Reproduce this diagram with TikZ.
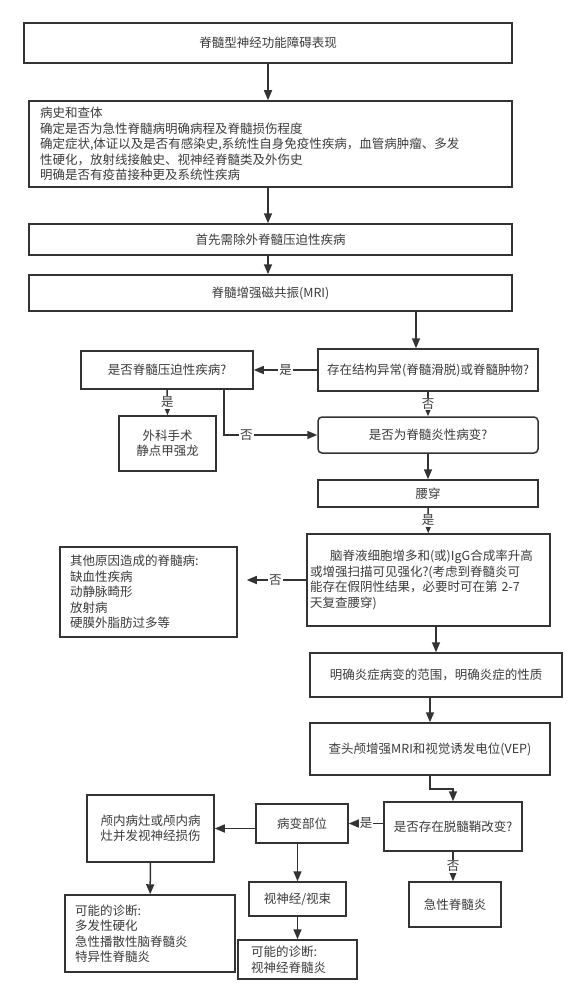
\documentclass[tikz,border=0pt]{standalone}
\usepackage{fontspec}
\setmainfont{Noto Sans CJK SC}
\usetikzlibrary{arrows.meta}

\definecolor{linegray}{HTML}{333333}
\definecolor{textgray}{HTML}{3C3C3C}

\tikzset{
	box/.style={draw=linegray, line width=1.5pt, fill=white, inner sep=0pt, text=textgray,
		font=\fontsize{12.5}{15.5}\selectfont, align=center},
	leftbox/.style={box, align=left},
	roundbox/.style={box, rounded corners=4pt},
	flow/.style={draw=linegray, line width=1.5pt, -{Triangle[length=10pt, width=8pt]}},
	lab/.style={fill=white, inner sep=1pt, text=textgray, font=\fontsize{12.5}{15.5}\selectfont},
}

\begin{document}
\begin{tikzpicture}[x=1pt, y=-1pt]
				\useasboundingbox (0,0) rectangle (578,1003);

				\coordinate (mri) at (416,0);

				\node[box, minimum width=488pt, minimum height=40pt] (n1) at (268,43) {脊髓型神经功能障碍表现};
				\node[leftbox, minimum width=483pt, minimum height=86pt, text width=461pt, inner xsep=11pt] (n2) at (270.5,144)
					{病史和查体\\确定是否为急性脊髓病明确病程及脊髓损伤程度\\确定症状,体证以及是否有感染史,系统性自身免疫性疾病，血管病肿瘤、多发\\性硬化，放射线接触史、视神经脊髓类及外伤史\\明确是否有疫苗接种更及系统性疾病};
				\node[box, minimum width=483pt, minimum height=31pt] (n3) at (270.5,239.5) {首先需除外脊髓压迫性疾病};
				\node[box, minimum width=483pt, minimum height=36pt] (n4) at (270.5,293) {脊髓增强磁共振(MRI)};

				\node[box, minimum width=220pt, minimum height=42pt] (n5) at (428,370) {存在结构异常(脊髓滑脱)或脊髓肿物?};
				\node[box, minimum width=172pt, minimum height=38pt] (n6) at (167,370) {是否脊髓压迫性疾病?};
				\node[box, minimum width=97pt, minimum height=55pt] (n7) at (167.5,443.5) {外科手术\\静点甲强龙};
				\node[roundbox, minimum width=220pt, minimum height=36pt] (n8) at (428,435) {是否为脊髓炎性病变?};
				\node[box, minimum width=220pt, minimum height=27pt] (n9) at (428,493.5) {腰穿};
				\node[leftbox, minimum width=243pt, minimum height=92pt, text width=237pt, inner xsep=3pt] (n10) at (428.5,580)
					{\hspace*{1.6em}脑脊液细胞增多和(或)IgG合成率升高\\或增强扫描可见强化?(考虑到脊髓炎可\\能存在假阴性结果，必要时可在第 2-7\\天复查腰穿)};
				\node[leftbox, minimum width=177pt, minimum height=90pt, text width=157pt, inner xsep=10pt] (n11) at (148.5,592)
					{其他原因造成的脊髓病:\\缺血性疾病\\动静脉畸形\\放射病\\硬膜外脂肪过多等};
				\node[box, minimum width=252pt, minimum height=44pt] (n12) at (436,675) {明确炎症病变的范围，明确炎症的性质};
				\node[box, minimum width=240pt, minimum height=52pt] (n13) at (430,749) {查头颅增强MRI和视觉诱发电位(VEP)};

				\node[box, minimum width=138pt, minimum height=49pt] (n14) at (453,826.5) {是否存在脱髓鞘改变?};
				\node[box, minimum width=92pt, minimum height=39pt] (n15) at (302,823.5) {病变部位};
				\node[box, minimum width=127pt, minimum height=67pt] (n16) at (150.5,828.5) {颅内病灶或颅内病\\灶并发视神经损伤};
				\node[leftbox, minimum width=170pt, minimum height=77pt, text width=150pt, inner xsep=10pt] (n17) at (150,933.5)
					{可能的诊断:\\多发性硬化\\急性播散性脑脊髓炎\\特异性脊髓炎};
				\node[box, minimum width=97pt, minimum height=34pt] (n18) at (297.5,899) {视神经/视束};
				\node[leftbox, minimum width=119pt, minimum height=39pt, text width=93pt, inner xsep=13pt] (n19) at (297.5,959.5)
					{可能的诊断:\\视神经脊髓炎};
				\node[box, minimum width=92pt, minimum height=45pt] (n20) at (455,904.5) {急性脊髓炎};

				% main column
				\draw[flow] (n1.south) -- (n1.south |- n2.north);
				\draw[flow] (n2.south -| n1.south) -- (n3.north -| n1.south);
				\draw[flow] (n3.south -| n1.south) -- (n4.north -| n1.south);
				\draw[flow] (n4.south -| mri) -- (n5.north -| mri);

				% structural lesion
				\draw[flow] (n5.west) -- (n6.east) node[lab, midway] {是};
				\draw[flow] (n6.south) -- (n7.north) node[lab, midway] {是};
				\draw[flow] ([xshift=57pt]n6.south) |- (n8.west) node[lab, pos=0.62] {否};
				\draw[flow] (n5.south) -- (n8.north) node[lab, midway] {否};
				\draw[flow] (n8) -- (n9);
				\draw[flow] (n9) -- (n10) node[lab, midway] {是};
				\draw[flow, shorten >=9pt] (n10.west) -- (n10.west -| n11.east) node[lab, pos=0.45] {否};
				\draw[flow] (n12.north |- n10.south) -- (n12.north);
				\draw[flow] (n13.north |- n12.south) -- (n13.north);
				\draw[flow] (n13.south) -- ++(0,13) -| (n14.north);

				% demyelination
				\draw[flow] (n15.east -| n14.west) -- (n15.east) node[lab, midway] {是};
				\draw[flow] (n16.east -| n15.west) -- (n16.east);
				\draw[flow] (n16) -- (n17);
				\draw[flow] (n15.south -| n18.north) -- (n18.north);
				\draw[flow] (n18) -- (n19);
				\draw[flow] (n14.south) -- (n14.south |- n20.north) node[lab, midway] {否};
			\end{tikzpicture}
\end{document}
